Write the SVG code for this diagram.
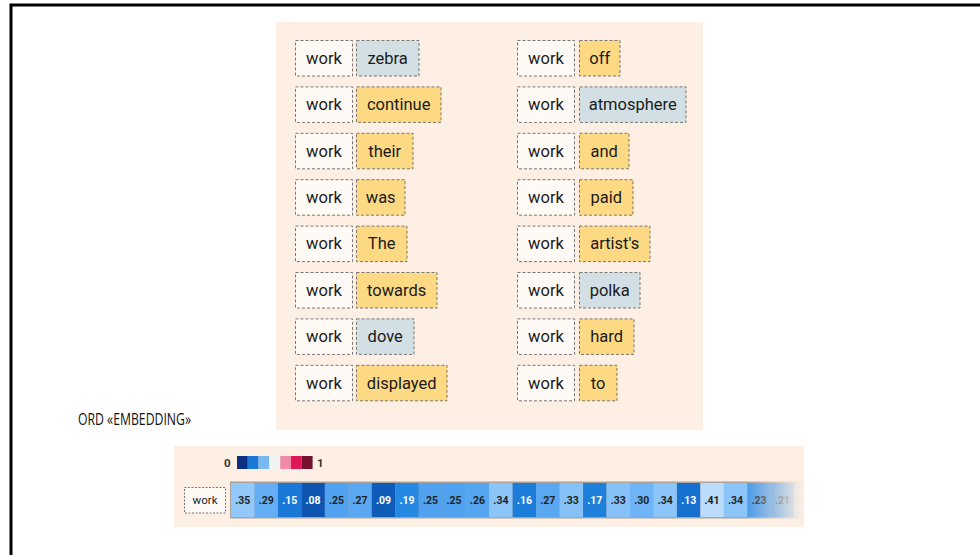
<svg xmlns="http://www.w3.org/2000/svg" width="980" height="555" viewBox="0 0 980 555">
<defs>
<style>
.panel{fill:#fdefe3}
.wk{fill:#fffaf6;stroke:#777;stroke-width:1;stroke-dasharray:3 2}
.y{fill:#fed984;stroke:#777;stroke-width:1;stroke-dasharray:3 2}
.b{fill:#d2e0e6;stroke:#777;stroke-width:1;stroke-dasharray:3 2}
.t{font-family:Roboto,"Open Sans",sans-serif;font-size:16.5px;fill:#1a1a1a;text-anchor:middle}
.lab{font-family:"Open Sans",sans-serif;font-size:16px;fill:#111}
.num{font-family:Roboto,sans-serif;font-size:10.5px;font-weight:bold;text-anchor:middle;fill:#222}
.w{fill:#fff}
.leg{font-family:Roboto,sans-serif;font-size:11.5px;font-weight:bold;fill:#333}
</style>
<linearGradient id="fade" x1="0" y1="0" x2="1" y2="0">
<stop offset="0" stop-color="#fdefe3" stop-opacity="0"/>
<stop offset="1" stop-color="#fdefe3" stop-opacity="1"/>
</linearGradient>
<clipPath id="rowclip"><rect x="229" y="480" width="575" height="40"/></clipPath>
</defs>
<rect x="0" y="0" width="980" height="555" fill="#fff"/>
<path d="M11,560 V5 H985" fill="none" stroke="#000" stroke-width="3"/>

<rect class="panel" x="276" y="22" width="427" height="408"/>

<g id="pairs-left">
<g id="l1"><rect class="wk" x="295.5" y="40.5" width="57" height="35.5"/><text class="t" x="324" y="63.8">work</text><rect class="b" x="356.5" y="40.5" width="62.5" height="35.5"/><text class="t" x="387.7" y="63.8">zebra</text></g>
<g id="l2"><rect class="wk" x="295.5" y="86.9" width="57" height="35.5"/><text class="t" x="324" y="110.2">work</text><rect class="y" x="356.5" y="86.9" width="84.5" height="35.5"/><text class="t" x="398.7" y="110.2">continue</text></g>
<g id="l3"><rect class="wk" x="295.5" y="133.3" width="57" height="35.5"/><text class="t" x="324" y="156.6">work</text><rect class="y" x="356.5" y="133.3" width="56.5" height="35.5"/><text class="t" x="384.7" y="156.6">their</text></g>
<g id="l4"><rect class="wk" x="295.5" y="179.7" width="57" height="35.5"/><text class="t" x="324" y="203">work</text><rect class="y" x="356.5" y="179.7" width="48.5" height="35.5"/><text class="t" x="380.7" y="203">was</text></g>
<g id="l5"><rect class="wk" x="295.5" y="226.1" width="57" height="35.5"/><text class="t" x="324" y="249.4">work</text><rect class="y" x="356.5" y="226.1" width="50.5" height="35.5"/><text class="t" x="381.7" y="249.4">The</text></g>
<g id="l6"><rect class="wk" x="295.5" y="272.5" width="57" height="35.5"/><text class="t" x="324" y="295.8">work</text><rect class="y" x="356.5" y="272.5" width="80.5" height="35.5"/><text class="t" x="396.7" y="295.8">towards</text></g>
<g id="l7"><rect class="wk" x="295.5" y="318.9" width="57" height="35.5"/><text class="t" x="324" y="342.2">work</text><rect class="b" x="356.5" y="318.9" width="57.5" height="35.5"/><text class="t" x="385.2" y="342.2">dove</text></g>
<g id="l8"><rect class="wk" x="295.5" y="365.3" width="57" height="35.5"/><text class="t" x="324" y="388.6">work</text><rect class="y" x="356.5" y="365.3" width="90.5" height="35.5"/><text class="t" x="401.7" y="388.6">displayed</text></g>
</g>

<g id="pairs-right">
<g id="r1"><rect class="wk" x="517.5" y="40.5" width="57" height="35.5"/><text class="t" x="546" y="63.8">work</text><rect class="y" x="579.5" y="40.5" width="40.5" height="35.5"/><text class="t" x="599.7" y="63.8">off</text></g>
<g id="r2"><rect class="wk" x="517.5" y="86.9" width="57" height="35.5"/><text class="t" x="546" y="110.2">work</text><rect class="b" x="579.5" y="86.9" width="106.5" height="35.5"/><text class="t" x="632.7" y="110.2">atmosphere</text></g>
<g id="r3"><rect class="wk" x="517.5" y="133.3" width="57" height="35.5"/><text class="t" x="546" y="156.6">work</text><rect class="y" x="579.5" y="133.3" width="49.5" height="35.5"/><text class="t" x="604.2" y="156.6">and</text></g>
<g id="r4"><rect class="wk" x="517.5" y="179.7" width="57" height="35.5"/><text class="t" x="546" y="203">work</text><rect class="y" x="579.5" y="179.7" width="53.5" height="35.5"/><text class="t" x="606.2" y="203">paid</text></g>
<g id="r5"><rect class="wk" x="517.5" y="226.1" width="57" height="35.5"/><text class="t" x="546" y="249.4">work</text><rect class="y" x="579.5" y="226.1" width="70.5" height="35.5"/><text class="t" x="614.7" y="249.4">artist's</text></g>
<g id="r6"><rect class="wk" x="517.5" y="272.5" width="57" height="35.5"/><text class="t" x="546" y="295.8">work</text><rect class="b" x="579.5" y="272.5" width="60.5" height="35.5"/><text class="t" x="609.7" y="295.8">polka</text></g>
<g id="r7"><rect class="wk" x="517.5" y="318.9" width="57" height="35.5"/><text class="t" x="546" y="342.2">work</text><rect class="y" x="579.5" y="318.9" width="54.5" height="35.5"/><text class="t" x="606.7" y="342.2">hard</text></g>
<g id="r8"><rect class="wk" x="517.5" y="365.3" width="57" height="35.5"/><text class="t" x="546" y="388.6">work</text><rect class="y" x="579.5" y="365.3" width="37.5" height="35.5"/><text class="t" x="598.2" y="388.6">to</text></g>
</g>

<text id="label" class="lab" x="78" y="424.5" textLength="113" lengthAdjust="spacingAndGlyphs">ORD «EMBEDDING»</text>

<rect class="panel" x="174" y="446" width="630" height="81"/>

<g id="legend">
<text class="leg" x="224" y="466.5">0</text>
<rect x="237" y="456" width="10.8" height="13" fill="#0d2f80"/>
<rect x="247.8" y="456" width="10.8" height="13" fill="#1a78d6"/>
<rect x="258.6" y="456" width="10.8" height="13" fill="#7ab8f0"/>
<rect x="269.4" y="456" width="10.8" height="13" fill="#f3f3f3"/>
<rect x="280.2" y="456" width="10.8" height="13" fill="#f08aa8"/>
<rect x="291" y="456" width="10.8" height="13" fill="#e0185a"/>
<rect x="301.8" y="456" width="10.8" height="13" fill="#75102f"/>
<text class="leg" x="317" y="466.5">1</text>
</g>

<g id="work-small">
<rect x="184.5" y="487.5" width="41" height="25.5" fill="#fffaf6" stroke="#777" stroke-width="1" stroke-dasharray="2 1.5"/>
<text x="205" y="504" font-family="Roboto,sans-serif" font-size="11.5px" fill="#222" text-anchor="middle">work</text>
</g>

<g id="heatrow" clip-path="url(#rowclip)">
<rect x="230" y="481.5" width="600" height="37" fill="#a8a39e"/>
<rect x="231" y="483" width="23.47" height="34" fill="#93c9fa"/>
<rect x="254.47" y="483" width="23.47" height="34" fill="#64aef5"/>
<rect x="277.94" y="483" width="23.47" height="34" fill="#1a78d8"/>
<rect x="301.41" y="483" width="23.47" height="34" fill="#0d55b0"/>
<rect x="324.88" y="483" width="23.47" height="34" fill="#50a2f0"/>
<rect x="348.35" y="483" width="23.47" height="34" fill="#5aa8f2"/>
<rect x="371.82" y="483" width="23.47" height="34" fill="#0f5cb8"/>
<rect x="395.29" y="483" width="23.47" height="34" fill="#2588e2"/>
<rect x="418.76" y="483" width="23.47" height="34" fill="#50a2f0"/>
<rect x="442.23" y="483" width="23.47" height="34" fill="#50a2f0"/>
<rect x="465.7" y="483" width="23.47" height="34" fill="#55a5f1"/>
<rect x="489.17" y="483" width="23.47" height="34" fill="#8cc5f9"/>
<rect x="512.64" y="483" width="23.47" height="34" fill="#1c7cda"/>
<rect x="536.11" y="483" width="23.47" height="34" fill="#5aa8f2"/>
<rect x="559.58" y="483" width="23.47" height="34" fill="#86c2f8"/>
<rect x="583.05" y="483" width="23.47" height="34" fill="#1f80dc"/>
<rect x="606.52" y="483" width="23.47" height="34" fill="#86c2f8"/>
<rect x="629.99" y="483" width="23.47" height="34" fill="#6eb4f6"/>
<rect x="653.46" y="483" width="23.47" height="34" fill="#8cc5f9"/>
<rect x="676.93" y="483" width="23.47" height="34" fill="#1670d0"/>
<rect x="700.4" y="483" width="23.47" height="34" fill="#bcdcfb"/>
<rect x="723.87" y="483" width="23.47" height="34" fill="#8cc5f9"/>
<rect x="747.34" y="483" width="23.47" height="34" fill="#4597e8"/>
<rect x="770.81" y="483" width="23.47" height="34" fill="#3a90e4"/>
<rect x="794.28" y="483" width="23.47" height="34" fill="#86c2f8"/>
<text class="num" x="242.7" y="504">.35</text>
<text class="num" x="266.2" y="504">.29</text>
<text class="num w" x="289.7" y="504">.15</text>
<text class="num w" x="313.1" y="504">.08</text>
<text class="num" x="336.6" y="504">.25</text>
<text class="num" x="360.1" y="504">.27</text>
<text class="num w" x="383.6" y="504">.09</text>
<text class="num w" x="407" y="504">.19</text>
<text class="num" x="430.5" y="504">.25</text>
<text class="num" x="454" y="504">.25</text>
<text class="num" x="477.4" y="504">.26</text>
<text class="num" x="500.9" y="504">.34</text>
<text class="num w" x="524.4" y="504">.16</text>
<text class="num" x="547.8" y="504">.27</text>
<text class="num" x="571.3" y="504">.33</text>
<text class="num w" x="594.8" y="504">.17</text>
<text class="num" x="618.3" y="504">.33</text>
<text class="num" x="641.7" y="504">.30</text>
<text class="num" x="665.2" y="504">.34</text>
<text class="num w" x="688.7" y="504">.13</text>
<text class="num" x="712.1" y="504">.41</text>
<text class="num" x="735.6" y="504">.34</text>
<text class="num" x="759.1" y="504">.23</text>
<text class="num" x="782.5" y="504">.21</text>
<text class="num" x="806" y="504">.31</text>
<rect x="745" y="480" width="59" height="40" fill="url(#fade)"/>
</g>
</svg>
